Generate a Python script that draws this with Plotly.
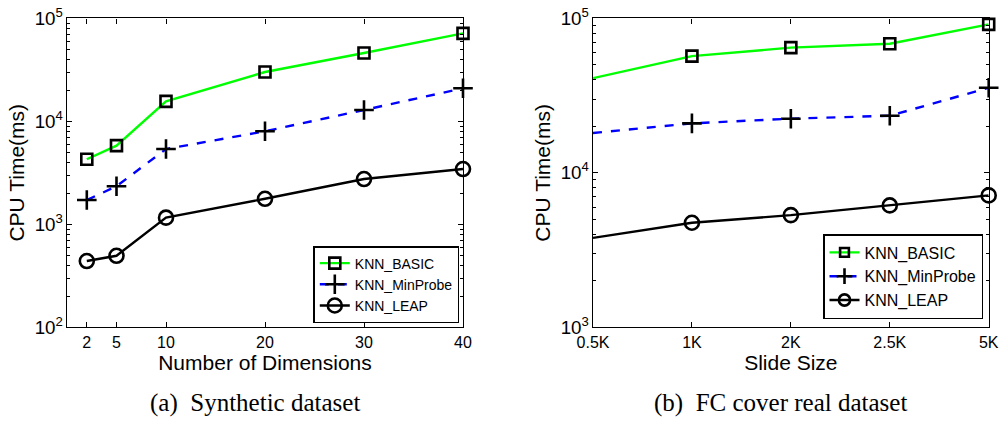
import plotly.graph_objects as go

# Panel (a): synthetic dataset, CPU time vs number of dimensions
dims = [2, 5, 10, 20, 30, 40]
basic_dims = [4280, 5800, 15600, 30100, 46000, 71400]
minprobe_dims = [1720, 2340, 5380, 8000, 12880, 20900]
leap_dims = [440, 495, 1160, 1770, 2750, 3440]

# Panel (b): FC cover real dataset, CPU time vs slide size
slides = ["0.5K", "1K", "2K", "2.5K", "5K"]
basic_slide = [41000, 56900, 64600, 68500, 91400]
minprobe_slide = [18100, 20900, 22400, 23400, 35500]
leap_slide = [3790, 4750, 5320, 6150, 7140]

series_names = ["KNN_BASIC", "KNN_MinProbe", "KNN_LEAP"]

W, H = 1003, 421
FONT = "Liberation Sans, Arial, sans-serif"

styles = [
    dict(line=dict(color="#00ff00", width=2.4, dash="solid"),
         symbol="square", size=11),
    dict(line=dict(color="#0000ff", width=2.4, dash="dash"),
         symbol="cross-thin", size=14),
    dict(line=dict(color="#000000", width=2.4, dash="solid"),
         symbol="circle", size=14),
]

fig = go.Figure()

def add_series(x, ys, xa, ya, legend, hide_first=False):
    for name, y, st in zip(series_names, ys, styles):
        sizes = [st["size"]] * len(x)
        if hide_first:
            sizes[0] = 0
        fig.add_trace(go.Scatter(
            x=x, y=y, name=name, mode="lines+markers",
            xaxis=xa, yaxis=ya, legend=legend, cliponaxis=False,
            line=st["line"],
            marker=dict(symbol=st["symbol"], size=sizes, opacity=1,
                        color="rgba(255,255,255,0)",
                        line=dict(color="black", width=2.6)),
        ))

add_series(dims, [basic_dims, minprobe_dims, leap_dims], "x", "y", "legend")
add_series(slides, [basic_slide, minprobe_slide, leap_slide], "x2", "y2",
           "legend2", hide_first=True)

y_dom = [1 - 327.3 / H, 1 - 18.3 / H]
title_font = dict(family=FONT, size=21, color="black")
axis_common = dict(
    showgrid=False, zeroline=False, showline=True, linecolor="black",
    linewidth=1.4, mirror="allticks", ticks="inside", ticklen=5,
    tickcolor="black", automargin=False,
)
xaxis_common = dict(axis_common, tickfont=dict(family=FONT, size=16, color="black"))
yaxis_common = dict(
    axis_common, type="log", dtick=1, exponentformat="power",
    tickfont=dict(family=FONT, size=15, color="black"),
    minor=dict(ticks="inside", ticklen=3, tickcolor="black"),
    title=dict(text="CPU Time(ms)", font=title_font, standoff=4),
)

fig.update_layout(
    width=W, height=H, margin=dict(l=0, r=0, t=0, b=0),
    paper_bgcolor="white", plot_bgcolor="white",
    xaxis=dict(xaxis_common, domain=[67 / W, 463 / W], anchor="y",
               range=[0, 40], tickvals=dims,
               title=dict(text="Number of Dimensions", font=title_font,
                          standoff=0)),
    yaxis=dict(yaxis_common, domain=y_dom, anchor="x", range=[2, 5]),
    xaxis2=dict(xaxis_common, domain=[593 / W, 988.7 / W], anchor="y2",
                type="category", range=[0, 4],
                title=dict(text="Slide Size", font=title_font, standoff=0)),
    yaxis2=dict(yaxis_common, domain=y_dom, anchor="x2", range=[3, 5]),
    legend=dict(x=459.3 / W, y=1 - 323 / H, xanchor="right", yanchor="bottom",
                bgcolor="white", bordercolor="black", borderwidth=1.5,
                font=dict(family=FONT, size=14, color="black"),
                tracegroupgap=0, itemwidth=30),
    legend2=dict(x=983 / W, y=1 - 319 / H, xanchor="right", yanchor="bottom",
                 bgcolor="white", bordercolor="black", borderwidth=1.5,
                 font=dict(family=FONT, size=16, color="black"),
                 tracegroupgap=0, itemwidth=30),
    showlegend=True,
)

caption_font = dict(family="Liberation Serif, Times New Roman, serif", size=25,
                    color="black")
for text, cx in [("(a)  Synthetic dataset", 255), ("(b)  FC cover real dataset", 780)]:
    fig.add_annotation(text=text, x=cx / W, y=1 - 403 / H, xref="paper",
                       yref="paper", xanchor="center", yanchor="middle",
                       showarrow=False, font=caption_font)

fig.write_html("out.html")
